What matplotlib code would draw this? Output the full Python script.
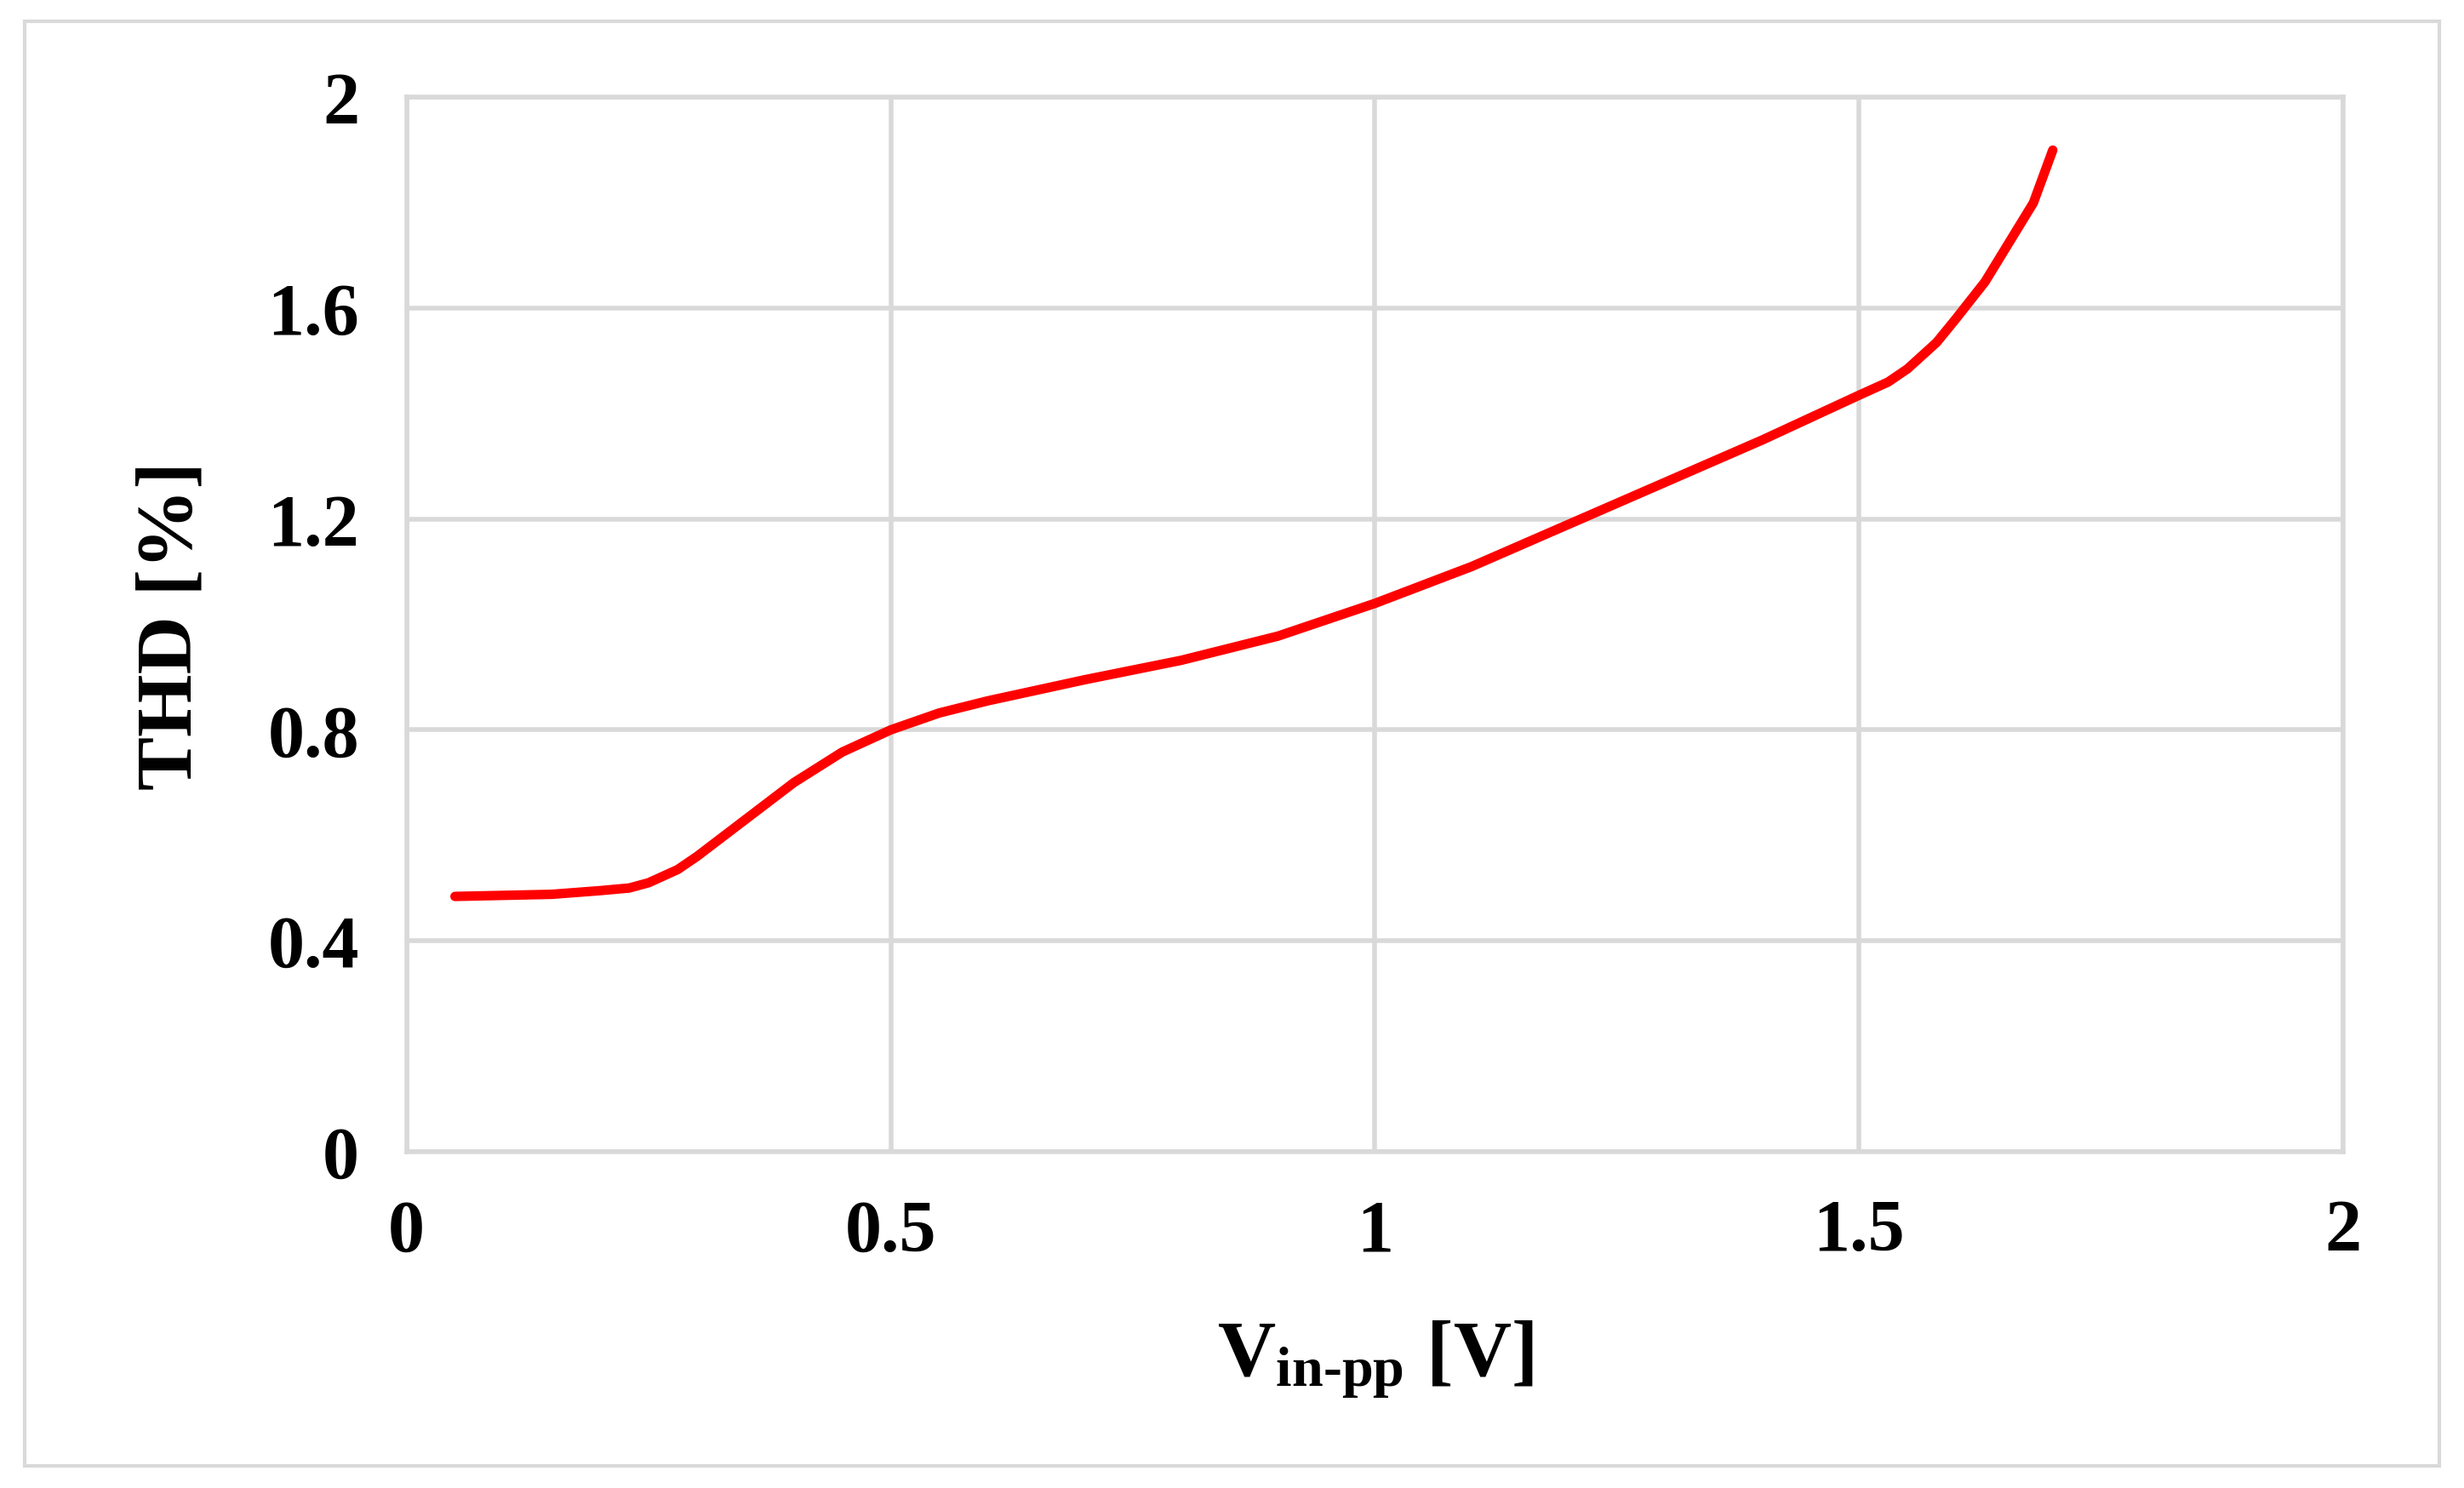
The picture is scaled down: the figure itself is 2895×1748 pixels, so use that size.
import matplotlib.pyplot as plt
from matplotlib.patches import Rectangle

# Datos
vin = [0.05, 0.10, 0.15, 0.20, 0.23, 0.25, 0.28, 0.30, 0.35, 0.40, 0.45, 0.50, 0.55,
       0.60, 0.70, 0.80, 0.90, 1.00, 1.10, 1.20, 1.30, 1.40, 1.50, 1.53, 1.55, 1.58,
       1.60, 1.63, 1.65, 1.68, 1.70]
thd = [0.484, 0.486, 0.488, 0.495, 0.50, 0.51, 0.535, 0.56, 0.63, 0.70, 0.758, 0.80, 0.832,
       0.855, 0.895, 0.932, 0.978, 1.04, 1.11, 1.19, 1.27, 1.35, 1.435, 1.46, 1.485, 1.535,
       1.58, 1.65, 1.71, 1.80, 1.90]
xticks = [0, 0.5, 1, 1.5, 2]
yticks = [0, 0.4, 0.8, 1.2, 1.6, 2]

plt.rcParams['font.family'] = ['Liberation Serif', 'DejaVu Serif']
plt.rcParams['font.weight'] = 'bold'
plt.rcParams['mathtext.fontset'] = 'custom'
plt.rcParams['mathtext.rm'] = 'Liberation Serif:bold'
plt.rcParams['mathtext.bf'] = 'Liberation Serif:bold'
plt.rcParams['mathtext.it'] = 'Liberation Serif:bold'

fig = plt.figure(figsize=(14.475, 8.745), dpi=200)
fig.patches.append(Rectangle((0.01, 0.015), 0.98, 0.97, transform=fig.transFigure,
                             fill=False, edgecolor='#d9d9d9', linewidth=1.5))
ax = fig.add_axes([0.165, 0.226, 0.786, 0.708])
ax.plot(vin, thd, color='#ff0000', linewidth=4, solid_capstyle='round',
        solid_joinstyle='round')

ax.set_xlim(0, 2)
ax.set_ylim(0, 2)
ax.set_xticks(xticks)
ax.set_yticks(yticks)
ax.set_xticklabels([f'{t:g}' for t in xticks])
ax.set_yticklabels([f'{t:g}' for t in yticks])
ax.tick_params(length=0, labelsize=31, pad=20)
ax.grid(True, color='#d9d9d9', linewidth=2)
for s in ax.spines.values():
    s.set_color('#d9d9d9')
    s.set_linewidth(2)
ax.set_axisbelow(True)

ax.set_xlabel(r'V$_{\mathrm{in}\text{-}\mathrm{pp}}$ [V]', fontsize=34, fontweight='bold', labelpad=22)
ax.set_ylabel('THD [%]', fontsize=34, fontweight='bold', labelpad=25)

fig.savefig('out.png', dpi=200)
